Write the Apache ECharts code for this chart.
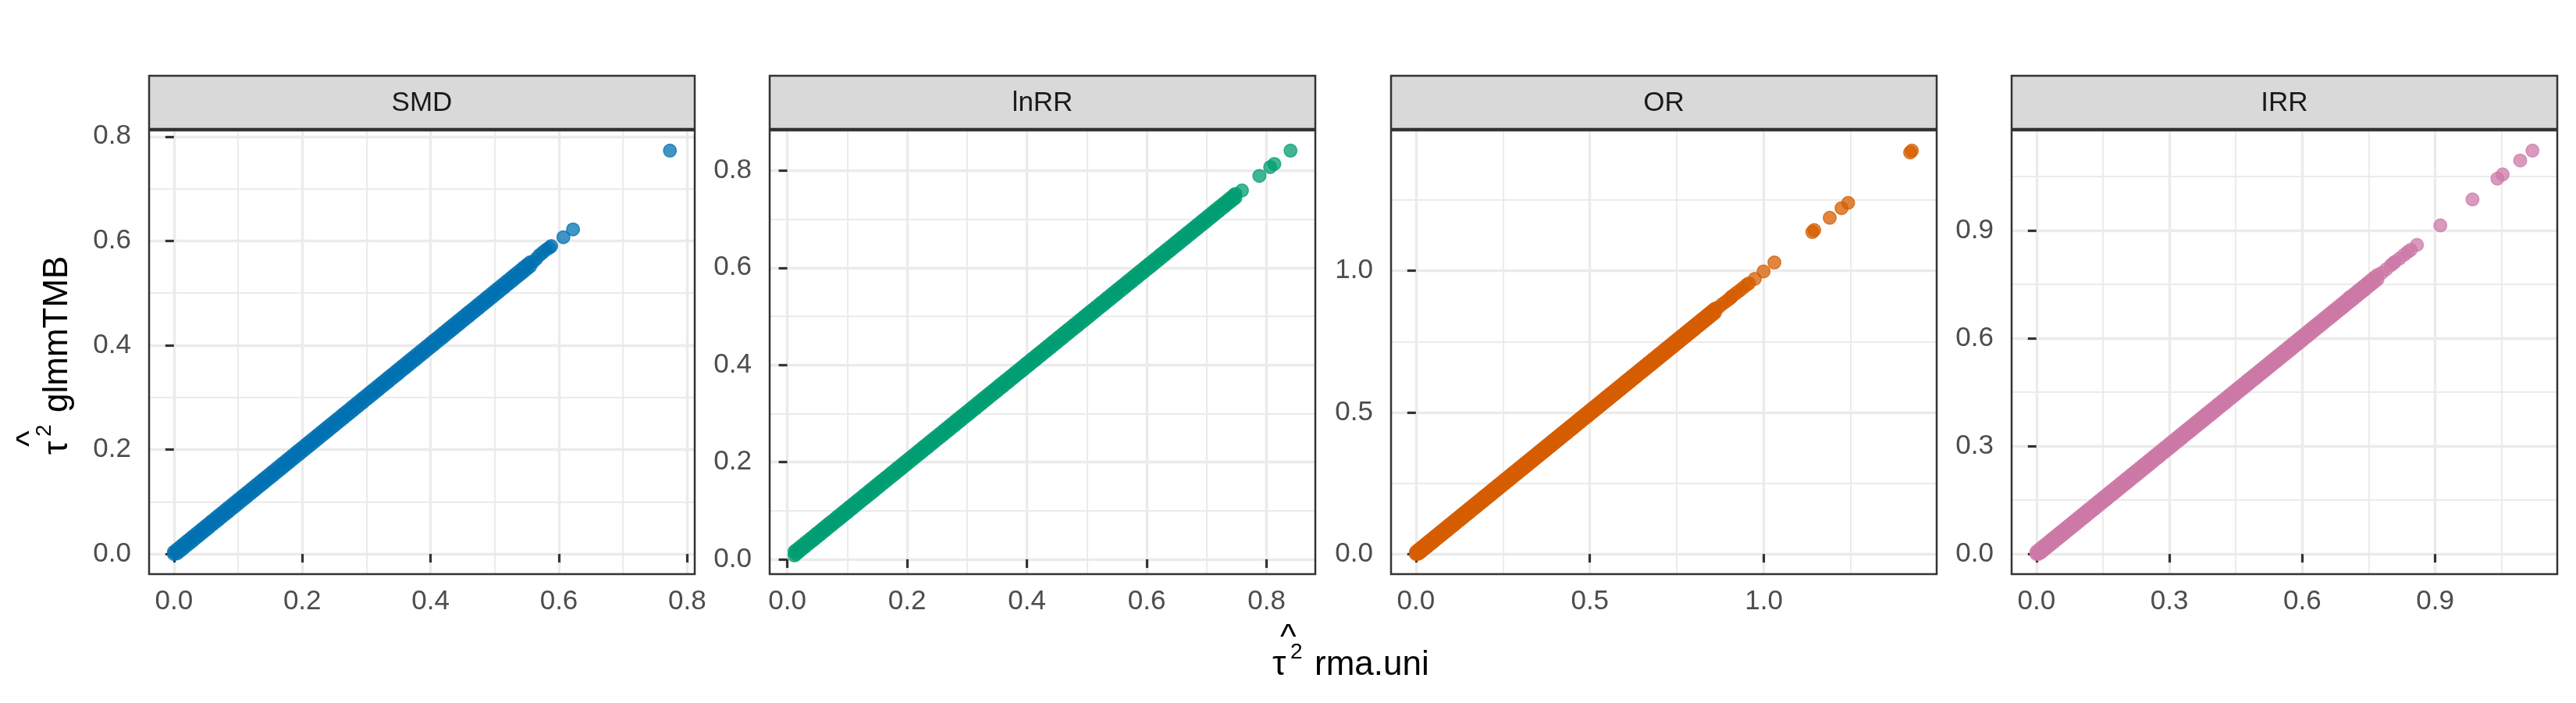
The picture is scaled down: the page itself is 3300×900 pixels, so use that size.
<!DOCTYPE html>
<html><head><meta charset="utf-8">
<script src="https://cdn.jsdelivr.net/npm/echarts@6/dist/echarts.min.js"></script>
<style>html,body{margin:0;padding:0;background:#fff}#c{width:3300px;height:900px}</style>
</head><body><div id="c"></div>
<script>
const panels = ['SMD', 'lnRR', 'OR', 'IRR'];
const colors = ['#0072B2', '#009E73', '#D55E00', '#CC79A7'];

// Dense band of points: tau^2 rma.uni (x) with the upper and lower edge of tau^2 glmmTMB (y)
const smdBandX = [0,0.005,0.01,0.015,0.02,0.025,0.03,0.035,0.04,0.045,0.05,0.055,0.06,0.065,0.07,0.075,0.08,0.085,0.09,0.095,
0.1,0.105,0.11,0.115,0.12,0.125,0.13,0.135,0.14,0.145,0.15,0.155,0.16,0.165,0.17,0.175,0.18,0.185,0.19,0.195,
0.2,0.205,0.21,0.215,0.22,0.225,0.23,0.235,0.24,0.245,0.25,0.255,0.26,0.265,0.27,0.275,0.28,0.285,0.29,0.295,
0.3,0.305,0.31,0.315,0.32,0.325,0.33,0.335,0.34,0.345,0.35,0.355,0.36,0.365,0.37,0.375,0.38,0.385,0.39,0.395,
0.4,0.405,0.41,0.415,0.42,0.425,0.43,0.435,0.44,0.445,0.45,0.455,0.46,0.465,0.47,0.475,0.48,0.485,0.49,0.495,
0.5,0.505,0.51,0.515,0.52,0.525,0.53,0.535,0.54,0.545,0.55,0.555];
const smdBandYHi = [0.004,0.009,0.014,0.019,0.024,0.029,0.034,0.039,0.044,0.049,0.054,0.059,0.064,0.069,0.074,0.079,0.084,0.089,0.094,0.099,
0.104,0.109,0.114,0.119,0.124,0.129,0.134,0.139,0.144,0.149,0.154,0.159,0.164,0.169,0.174,0.179,0.184,0.189,0.194,0.199,
0.204,0.209,0.214,0.219,0.224,0.229,0.234,0.239,0.244,0.249,0.254,0.259,0.264,0.269,0.274,0.279,0.284,0.289,0.294,0.299,
0.304,0.309,0.314,0.319,0.324,0.329,0.334,0.339,0.344,0.349,0.354,0.359,0.364,0.369,0.374,0.379,0.384,0.389,0.394,0.399,
0.404,0.409,0.414,0.419,0.424,0.429,0.434,0.439,0.444,0.449,0.454,0.459,0.464,0.469,0.474,0.479,0.484,0.489,0.494,0.499,
0.504,0.509,0.514,0.519,0.524,0.529,0.534,0.539,0.544,0.549,0.554,0.559];
const smdBandYLo = [0,0.001,0.006,0.011,0.016,0.021,0.026,0.031,0.036,0.041,0.046,0.051,0.056,0.061,0.066,0.071,0.076,0.081,0.086,0.091,
0.096,0.101,0.106,0.111,0.116,0.121,0.126,0.131,0.136,0.141,0.146,0.151,0.156,0.161,0.166,0.171,0.176,0.181,0.186,0.191,
0.196,0.201,0.206,0.211,0.216,0.221,0.226,0.231,0.236,0.241,0.246,0.251,0.256,0.261,0.266,0.271,0.276,0.281,0.286,0.291,
0.296,0.301,0.306,0.311,0.316,0.321,0.326,0.331,0.336,0.341,0.346,0.351,0.356,0.361,0.366,0.371,0.376,0.381,0.386,0.391,
0.396,0.401,0.406,0.411,0.416,0.421,0.426,0.431,0.436,0.441,0.446,0.451,0.456,0.461,0.466,0.471,0.476,0.481,0.486,0.491,
0.496,0.501,0.506,0.511,0.516,0.521,0.526,0.531,0.536,0.541,0.546,0.551];
const smdOutX = [0.56,0.565,0.57,0.575,0.58,0.585,0.588,0.607,0.622,0.773];
const smdOutY = [0.56,0.566,0.573,0.578,0.583,0.587,0.59,0.607,0.622,0.773];

const lnrrBandX = [0.012,0.015,0.02,0.025,0.03,0.035,0.04,0.045,0.05,0.055,0.06,0.065,0.07,0.075,0.08,0.085,0.09,0.095,
0.1,0.105,0.11,0.115,0.12,0.125,0.13,0.135,0.14,0.145,0.15,0.155,0.16,0.165,0.17,0.175,0.18,0.185,0.19,0.195,
0.2,0.205,0.21,0.215,0.22,0.225,0.23,0.235,0.24,0.245,0.25,0.255,0.26,0.265,0.27,0.275,0.28,0.285,0.29,0.295,
0.3,0.305,0.31,0.315,0.32,0.325,0.33,0.335,0.34,0.345,0.35,0.355,0.36,0.365,0.37,0.375,0.38,0.385,0.39,0.395,
0.4,0.405,0.41,0.415,0.42,0.425,0.43,0.435,0.44,0.445,0.45,0.455,0.46,0.465,0.47,0.475,0.48,0.485,0.49,0.495,
0.5,0.505,0.51,0.515,0.52,0.525,0.53,0.535,0.54,0.545,0.55,0.555,0.56,0.565,0.57,0.575,0.58,0.585,0.59,0.595,
0.6,0.605,0.61,0.615,0.62,0.625,0.63,0.635,0.64,0.645,0.65,0.655,0.66,0.665,0.67,0.675,0.68,0.685,0.69,0.695,
0.7,0.705,0.71,0.715,0.72,0.725,0.73,0.735,0.74,0.745,0.748];
const lnrrBandYHi = [0.016,0.019,0.024,0.029,0.034,0.039,0.044,0.049,0.054,0.059,0.064,0.069,0.074,0.079,0.084,0.089,0.094,0.099,
0.104,0.109,0.114,0.119,0.124,0.129,0.134,0.139,0.144,0.149,0.154,0.159,0.164,0.169,0.174,0.179,0.184,0.189,0.194,0.199,
0.204,0.209,0.214,0.219,0.224,0.229,0.234,0.239,0.244,0.249,0.254,0.259,0.264,0.269,0.274,0.279,0.284,0.289,0.294,0.299,
0.304,0.309,0.314,0.319,0.324,0.329,0.334,0.339,0.344,0.349,0.354,0.359,0.364,0.369,0.374,0.379,0.384,0.389,0.394,0.399,
0.404,0.409,0.414,0.419,0.424,0.429,0.434,0.439,0.444,0.449,0.454,0.459,0.464,0.469,0.474,0.479,0.484,0.489,0.494,0.499,
0.504,0.509,0.514,0.519,0.524,0.529,0.534,0.539,0.544,0.549,0.554,0.559,0.564,0.569,0.574,0.579,0.584,0.589,0.594,0.599,
0.604,0.609,0.614,0.619,0.624,0.629,0.634,0.639,0.644,0.649,0.654,0.659,0.664,0.669,0.674,0.679,0.684,0.689,0.694,0.699,
0.704,0.709,0.714,0.719,0.724,0.729,0.734,0.739,0.744,0.749,0.752];
const lnrrBandYLo = [0.008,0.011,0.016,0.021,0.026,0.031,0.036,0.041,0.046,0.051,0.056,0.061,0.066,0.071,0.076,0.081,0.086,0.091,
0.096,0.101,0.106,0.111,0.116,0.121,0.126,0.131,0.136,0.141,0.146,0.151,0.156,0.161,0.166,0.171,0.176,0.181,0.186,0.191,
0.196,0.201,0.206,0.211,0.216,0.221,0.226,0.231,0.236,0.241,0.246,0.251,0.256,0.261,0.266,0.271,0.276,0.281,0.286,0.291,
0.296,0.301,0.306,0.311,0.316,0.321,0.326,0.331,0.336,0.341,0.346,0.351,0.356,0.361,0.366,0.371,0.376,0.381,0.386,0.391,
0.396,0.401,0.406,0.411,0.416,0.421,0.426,0.431,0.436,0.441,0.446,0.451,0.456,0.461,0.466,0.471,0.476,0.481,0.486,0.491,
0.496,0.501,0.506,0.511,0.516,0.521,0.526,0.531,0.536,0.541,0.546,0.551,0.556,0.561,0.566,0.571,0.576,0.581,0.586,0.591,
0.596,0.601,0.606,0.611,0.616,0.621,0.626,0.631,0.636,0.641,0.646,0.651,0.656,0.661,0.666,0.671,0.676,0.681,0.686,0.691,
0.696,0.701,0.706,0.711,0.716,0.721,0.726,0.731,0.736,0.741,0.744];
const lnrrOutX = [0.759,0.788,0.806,0.813,0.84];
const lnrrOutY = [0.759,0.789,0.807,0.8135,0.841];

const orBandX = [0,0.005,0.01,0.015,0.02,0.025,0.03,0.035,0.04,0.045,0.05,0.055,0.06,0.065,0.07,0.075,0.08,0.085,0.09,0.095,
0.1,0.105,0.11,0.115,0.12,0.125,0.13,0.135,0.14,0.145,0.15,0.155,0.16,0.165,0.17,0.175,0.18,0.185,0.19,0.195,
0.2,0.205,0.21,0.215,0.22,0.225,0.23,0.235,0.24,0.245,0.25,0.255,0.26,0.265,0.27,0.275,0.28,0.285,0.29,0.295,
0.3,0.305,0.31,0.315,0.32,0.325,0.33,0.335,0.34,0.345,0.35,0.355,0.36,0.365,0.37,0.375,0.38,0.385,0.39,0.395,
0.4,0.405,0.41,0.415,0.42,0.425,0.43,0.435,0.44,0.445,0.45,0.455,0.46,0.465,0.47,0.475,0.48,0.485,0.49,0.495,
0.5,0.505,0.51,0.515,0.52,0.525,0.53,0.535,0.54,0.545,0.55,0.555,0.56,0.565,0.57,0.575,0.58,0.585,0.59,0.595,
0.6,0.605,0.61,0.615,0.62,0.625,0.63,0.635,0.64,0.645,0.65,0.655,0.66,0.665,0.67,0.675,0.68,0.685,0.69,0.695,
0.7,0.705,0.71,0.715,0.72,0.725,0.73,0.735,0.74,0.745,0.75,0.755,0.76,0.765,0.77,0.775,0.78,0.785,0.79,0.795,
0.8,0.805,0.81,0.815,0.82,0.825,0.83,0.835,0.84,0.845,0.85,0.855,0.86];
const orBandYHi = [0.007,0.012,0.017,0.022,0.027,0.032,0.037,0.042,0.047,0.052,0.057,0.062,0.067,0.072,0.077,0.082,0.087,0.092,0.097,0.102,
0.107,0.112,0.117,0.122,0.127,0.132,0.137,0.142,0.147,0.152,0.157,0.162,0.167,0.172,0.177,0.182,0.187,0.192,0.197,0.202,
0.207,0.212,0.217,0.222,0.227,0.232,0.237,0.242,0.247,0.252,0.257,0.262,0.267,0.272,0.277,0.282,0.287,0.292,0.297,0.302,
0.307,0.312,0.317,0.322,0.327,0.332,0.337,0.342,0.347,0.352,0.357,0.362,0.367,0.372,0.377,0.382,0.387,0.392,0.397,0.402,
0.407,0.412,0.417,0.422,0.427,0.432,0.437,0.442,0.447,0.452,0.457,0.462,0.467,0.472,0.477,0.482,0.487,0.492,0.497,0.502,
0.507,0.512,0.517,0.522,0.527,0.532,0.537,0.542,0.547,0.552,0.557,0.562,0.567,0.572,0.577,0.582,0.587,0.592,0.597,0.602,
0.607,0.612,0.617,0.622,0.627,0.632,0.637,0.642,0.647,0.652,0.657,0.662,0.667,0.672,0.677,0.682,0.687,0.692,0.697,0.702,
0.707,0.712,0.717,0.722,0.727,0.732,0.737,0.742,0.747,0.752,0.757,0.762,0.767,0.772,0.777,0.782,0.787,0.792,0.797,0.802,
0.807,0.812,0.817,0.822,0.827,0.832,0.837,0.842,0.847,0.852,0.857,0.862,0.867];
const orBandYLo = [0,0,0.003,0.008,0.013,0.018,0.023,0.028,0.033,0.038,0.043,0.048,0.053,0.058,0.063,0.068,0.073,0.078,0.083,0.088,
0.093,0.098,0.103,0.108,0.113,0.118,0.123,0.128,0.133,0.138,0.143,0.148,0.153,0.158,0.163,0.168,0.173,0.178,0.183,0.188,
0.193,0.198,0.203,0.208,0.213,0.218,0.223,0.228,0.233,0.238,0.243,0.248,0.253,0.258,0.263,0.268,0.273,0.278,0.283,0.288,
0.293,0.298,0.303,0.308,0.313,0.318,0.323,0.328,0.333,0.338,0.343,0.348,0.353,0.358,0.363,0.368,0.373,0.378,0.383,0.388,
0.393,0.398,0.403,0.408,0.413,0.418,0.423,0.428,0.433,0.438,0.443,0.448,0.453,0.458,0.463,0.468,0.473,0.478,0.483,0.488,
0.493,0.498,0.503,0.508,0.513,0.518,0.523,0.528,0.533,0.538,0.543,0.548,0.553,0.558,0.563,0.568,0.573,0.578,0.583,0.588,
0.593,0.598,0.603,0.608,0.613,0.618,0.623,0.628,0.633,0.638,0.643,0.648,0.653,0.658,0.663,0.668,0.673,0.678,0.683,0.688,
0.693,0.698,0.703,0.708,0.713,0.718,0.723,0.728,0.733,0.738,0.743,0.748,0.753,0.758,0.763,0.768,0.773,0.778,0.783,0.788,
0.793,0.798,0.803,0.808,0.813,0.818,0.823,0.828,0.833,0.838,0.843,0.848,0.853];
const orOutX = [0.87,0.88,0.89,0.9,0.905,0.91,0.92,0.93,0.94,0.95,0.957,0.974,0.999,1.03,1.139,1.1445,1.189,1.223,1.242,1.42,1.425];
const orOutY = [0.872,0.882,0.891,0.9,0.906,0.912,0.921,0.93,0.94,0.95,0.956,0.972,0.998,1.0296,1.137,1.144,1.1875,1.2216,1.24,1.418,1.4247];

const irrBandX = [0,0.005,0.01,0.015,0.02,0.025,0.03,0.035,0.04,0.045,0.05,0.055,0.06,0.065,0.07,0.075,0.08,0.085,0.09,0.095,
0.1,0.105,0.11,0.115,0.12,0.125,0.13,0.135,0.14,0.145,0.15,0.155,0.16,0.165,0.17,0.175,0.18,0.185,0.19,0.195,
0.2,0.205,0.21,0.215,0.22,0.225,0.23,0.235,0.24,0.245,0.25,0.255,0.26,0.265,0.27,0.275,0.28,0.285,0.29,0.295,
0.3,0.305,0.31,0.315,0.32,0.325,0.33,0.335,0.34,0.345,0.35,0.355,0.36,0.365,0.37,0.375,0.38,0.385,0.39,0.395,
0.4,0.405,0.41,0.415,0.42,0.425,0.43,0.435,0.44,0.445,0.45,0.455,0.46,0.465,0.47,0.475,0.48,0.485,0.49,0.495,
0.5,0.505,0.51,0.515,0.52,0.525,0.53,0.535,0.54,0.545,0.55,0.555,0.56,0.565,0.57,0.575,0.58,0.585,0.59,0.595,
0.6,0.605,0.61,0.615,0.62,0.625,0.63,0.635,0.64,0.645,0.65,0.655,0.66,0.665,0.67,0.675,0.68,0.685,0.69,0.695,
0.7,0.705,0.71,0.715,0.72,0.725,0.73,0.735,0.74,0.745,0.75,0.755,0.76,0.765,0.77];
const irrBandYHi = [0.006,0.011,0.016,0.021,0.026,0.031,0.036,0.041,0.046,0.051,0.056,0.061,0.066,0.071,0.076,0.081,0.086,0.091,0.096,0.101,
0.106,0.111,0.116,0.121,0.126,0.131,0.136,0.141,0.146,0.151,0.156,0.161,0.166,0.171,0.176,0.181,0.186,0.191,0.196,0.201,
0.206,0.211,0.216,0.221,0.226,0.231,0.236,0.241,0.246,0.251,0.256,0.261,0.266,0.271,0.276,0.281,0.286,0.291,0.296,0.301,
0.306,0.311,0.316,0.321,0.326,0.331,0.336,0.341,0.346,0.351,0.356,0.361,0.366,0.371,0.376,0.381,0.386,0.391,0.396,0.401,
0.406,0.411,0.416,0.421,0.426,0.431,0.436,0.441,0.446,0.451,0.456,0.461,0.466,0.471,0.476,0.481,0.486,0.491,0.496,0.501,
0.506,0.511,0.516,0.521,0.526,0.531,0.536,0.541,0.546,0.551,0.556,0.561,0.566,0.571,0.576,0.581,0.586,0.591,0.596,0.601,
0.606,0.611,0.616,0.621,0.626,0.631,0.636,0.641,0.646,0.651,0.656,0.661,0.666,0.671,0.676,0.681,0.686,0.691,0.696,0.701,
0.706,0.711,0.716,0.721,0.726,0.731,0.736,0.741,0.746,0.751,0.756,0.761,0.766,0.771,0.776];
const irrBandYLo = [0,0,0.004,0.009,0.014,0.019,0.024,0.029,0.034,0.039,0.044,0.049,0.054,0.059,0.064,0.069,0.074,0.079,0.084,0.089,
0.094,0.099,0.104,0.109,0.114,0.119,0.124,0.129,0.134,0.139,0.144,0.149,0.154,0.159,0.164,0.169,0.174,0.179,0.184,0.189,
0.194,0.199,0.204,0.209,0.214,0.219,0.224,0.229,0.234,0.239,0.244,0.249,0.254,0.259,0.264,0.269,0.274,0.279,0.284,0.289,
0.294,0.299,0.304,0.309,0.314,0.319,0.324,0.329,0.334,0.339,0.344,0.349,0.354,0.359,0.364,0.369,0.374,0.379,0.384,0.389,
0.394,0.399,0.404,0.409,0.414,0.419,0.424,0.429,0.434,0.439,0.444,0.449,0.454,0.459,0.464,0.469,0.474,0.479,0.484,0.489,
0.494,0.499,0.504,0.509,0.514,0.519,0.524,0.529,0.534,0.539,0.544,0.549,0.554,0.559,0.564,0.569,0.574,0.579,0.584,0.589,
0.594,0.599,0.604,0.609,0.614,0.619,0.624,0.629,0.634,0.639,0.644,0.649,0.654,0.659,0.664,0.669,0.674,0.679,0.684,0.689,
0.694,0.699,0.704,0.709,0.714,0.719,0.724,0.729,0.734,0.739,0.744,0.749,0.754,0.759,0.764];
const irrOutX = [0.706,0.78,0.79,0.8,0.806,0.81,0.82,0.83,0.838,0.845,0.859,0.9118,0.9843,1.0406,1.0524,1.092,1.1197];
const irrOutY = [0.713,0.782,0.792,0.803,0.809,0.813,0.822,0.832,0.84,0.846,0.8596,0.9137,0.9861,1.0438,1.0555,1.0945,1.1218];

const bandX = [smdBandX, lnrrBandX, orBandX, irrBandX];
const bandYHi = [smdBandYHi, lnrrBandYHi, orBandYHi, irrBandYHi];
const bandYLo = [smdBandYLo, lnrrBandYLo, orBandYLo, irrBandYLo];
const outX = [smdOutX, lnrrOutX, orOutX, irrOutX];
const outY = [smdOutY, lnrrOutY, orOutY, irrOutY];

// tick values per panel (free scales)
const majorTicks = [[0,0.2,0.4,0.6,0.8],[0,0.2,0.4,0.6,0.8],[0,0.5,1.0],[0,0.3,0.6,0.9]];
const minorTicks = [[0.1,0.3,0.5,0.7],[0.1,0.3,0.5,0.7],[0.25,0.75,1.25],[0.15,0.45,0.75,1.05]];
// axis limits = data range expanded by 5% each side
const xLim = [[-0.0387,0.8117],[-0.0294,0.8814],[-0.0713,1.4963],[-0.056,1.1757]];
const yLim = [[-0.0387,0.8117],[-0.0305,0.8825],[-0.0712,1.4959],[-0.0561,1.1779]];

const FONT = "'Liberation Sans', Arial, Helvetica, sans-serif";
const LEFTS = [191, 986, 1782, 2577];
const TOP = 167, W = 699, H = 568, STRIP_TOP = 97, STRIP_H = 68;

const grids = [], xAxes = [], yAxes = [], series = [], graphics = [];
function majorAxis(i, lim, ticks, isX) {
  return {
    type: 'value', gridIndex: i, min: lim[0], max: lim[1],
    position: isX ? 'bottom' : 'left',
    axisLine: { show: false },
    axisTick: { show: true, length: 11, customValues: ticks, lineStyle: { color: '#333333', width: 3.2 } },
    axisLabel: { customValues: ticks, formatter: v => Number(v).toFixed(1), fontSize: 35, fontFamily: FONT,
      color: '#4D4D4D', margin: isX ? 18 : 23 },
    splitLine: { show: true, lineStyle: { color: '#EBEBEB', width: 3.4 } }
  };
}
function minorAxis(i, lim, ticks, isX) {
  return {
    type: 'value', gridIndex: i, min: lim[0], max: lim[1],
    position: isX ? 'top' : 'right',
    axisLine: { show: false },
    axisTick: { show: false, customValues: ticks },
    axisLabel: { show: false },
    splitLine: { show: true, lineStyle: { color: '#EBEBEB', width: 1.9 } }
  };
}
for (let i = 0; i < 4; i++) {
  grids.push({ left: LEFTS[i], top: TOP, width: W, height: H, containLabel: false });
  xAxes.push(majorAxis(i, xLim[i], majorTicks[i], true));
  xAxes.push(minorAxis(i, xLim[i], minorTicks[i], true));
  yAxes.push(majorAxis(i, yLim[i], majorTicks[i], false));
  yAxes.push(minorAxis(i, yLim[i], minorTicks[i], false));
  const data = [];
  const n = Math.min(bandX[i].length, bandYHi[i].length, bandYLo[i].length);
  for (let k = 0; k < n; k++) {
    data.push([bandX[i][k], bandYHi[i][k]]);
    data.push([bandX[i][k], bandYLo[i][k]]);
  }
  const m = Math.min(outX[i].length, outY[i].length);
  for (let k = 0; k < m; k++) data.push([outX[i][k], outY[i][k]]);
  series.push({
    type: 'scatter', name: panels[i], xAxisIndex: 2 * i, yAxisIndex: 2 * i, data,
    symbol: 'circle', symbolSize: 16.5, silent: true, z: 3,
    itemStyle: { color: colors[i], opacity: 0.75, borderColor: colors[i], borderWidth: 1.5 }
  });
  graphics.push({ type: 'rect', silent: true, z: 100,
    shape: { x: LEFTS[i], y: STRIP_TOP, width: W, height: STRIP_H },
    style: { fill: '#D9D9D9', stroke: '#333333', lineWidth: 2.5 } });
  graphics.push({ type: 'text', silent: true, z: 101, x: LEFTS[i] + W / 2, y: STRIP_TOP + STRIP_H / 2 + 1,
    style: { text: panels[i], fontSize: 35, fontFamily: FONT, fill: '#1A1A1A',
      align: 'center', verticalAlign: 'middle', textAlign: 'center', textVerticalAlign: 'middle' } });
  graphics.push({ type: 'rect', silent: true, z: 100,
    shape: { x: LEFTS[i], y: TOP, width: W, height: H },
    style: { fill: 'rgba(0,0,0,0)', stroke: '#333333', lineWidth: 2.5 } });
}

function titleChildren(word) {
  const st = (t, fs) => ({ text: t, fontSize: fs, fontFamily: FONT, fill: '#000000',
    align: 'left', verticalAlign: 'middle', textAlign: 'left', textVerticalAlign: 'middle' });
  return [
    { type: 'text', x: 0, y: -15.25, style: st('τ', 44) },
    { type: 'text', x: 23, y: -31.7, style: st('2', 28) },
    { type: 'text', x: 10, y: -48.75, style: st('^', 44) },
    { type: 'text', x: 54, y: -15.25, style: st(word, 44) }
  ];
}
graphics.push({ type: 'group', x: 1630, y: 867, silent: true, z: 100, children: titleChildren('rma.uni') });
graphics.push({ type: 'group', x: 89, y: 582, rotation: Math.PI / 2, silent: true, z: 100, children: titleChildren('glmmTMB') });

const chart = echarts.init(document.getElementById('c'), null, { renderer: 'canvas' });
chart.setOption({
  animation: false,
  backgroundColor: '#FFFFFF',
  grid: grids, xAxis: xAxes, yAxis: yAxes, series: series,
  graphic: { elements: graphics }
});
</script></body></html>
